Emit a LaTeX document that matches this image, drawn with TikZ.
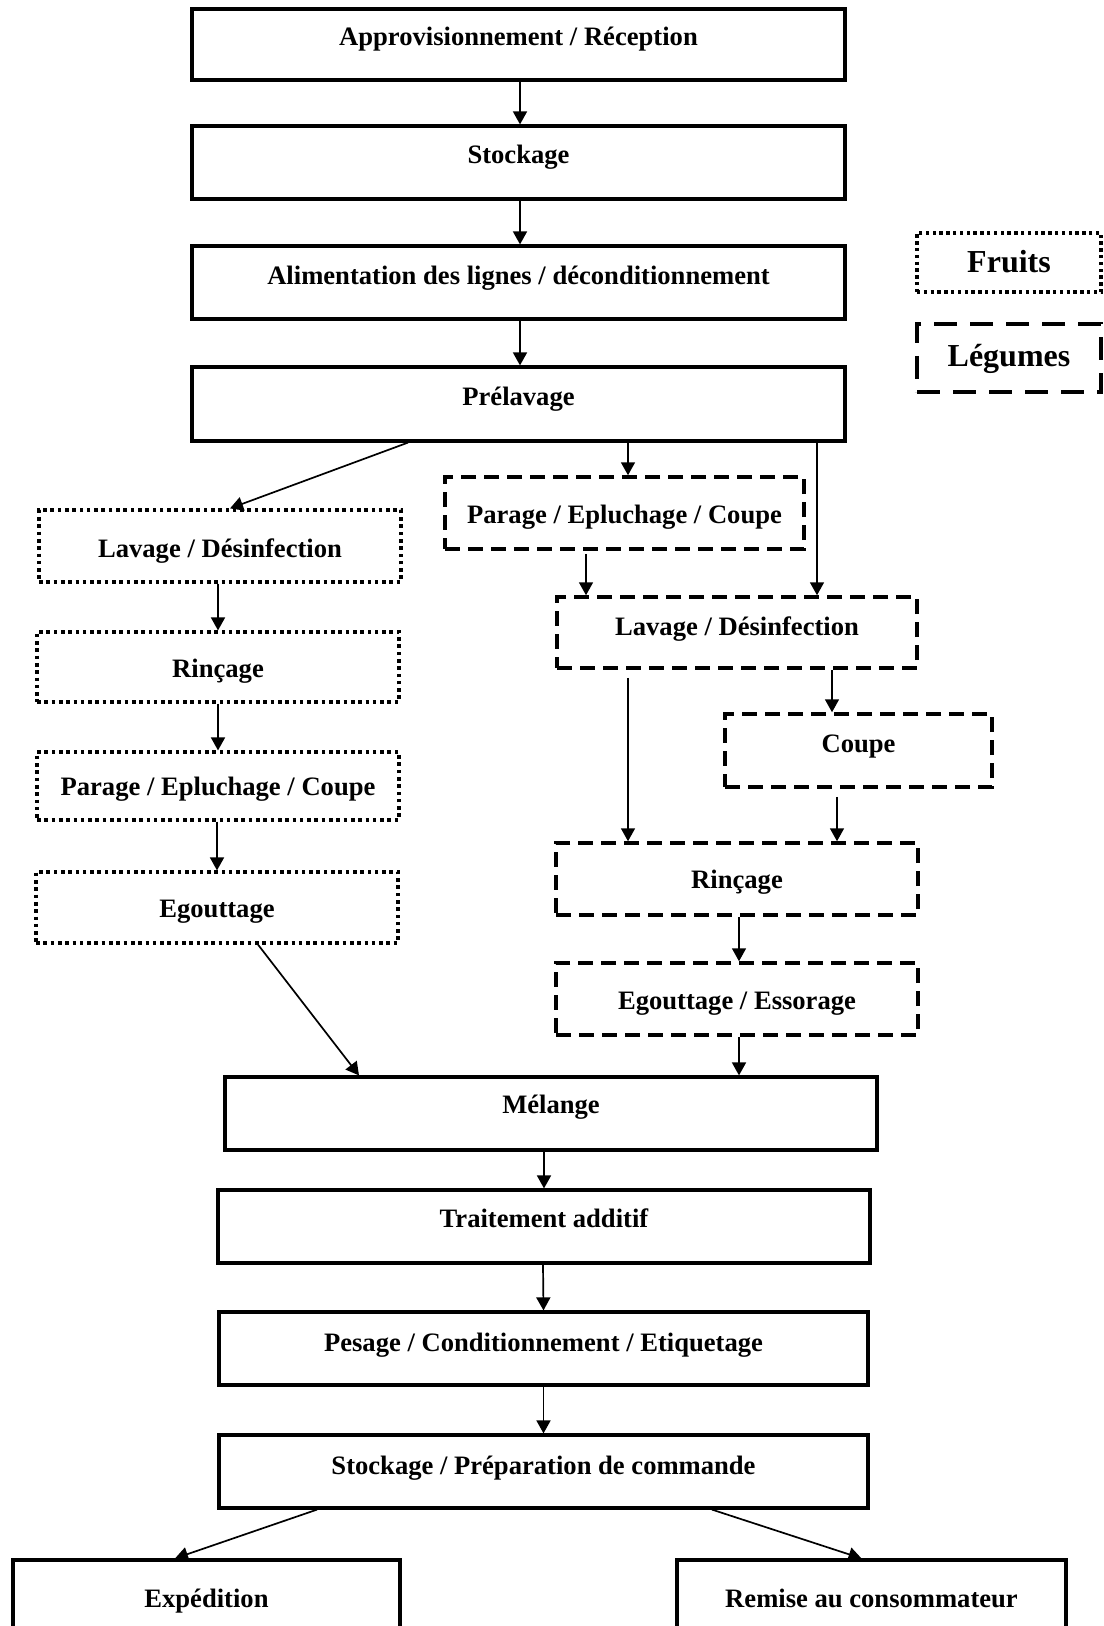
\documentclass[tikz,border=0pt]{standalone}
\usepackage{fontspec}
\setmainfont{Liberation Serif}
\usetikzlibrary{arrows.meta}

% \mkbox{name}{style}{x1}{y1}{x2}{y2}{baseline y}{text}
\newcommand\mkbox[8]{%
  \node[#2, minimum width={(#5-#3)*0.5pt}, minimum height={(#6-#4)*0.5pt}]
    (#1) at ({(#3+#5)/2},{(#4+#6)/2}) {};
  \node[lbl] (#1t) at ({(#3+#5)/2},#7) {#8};
}

\begin{document}
\begin{tikzpicture}[x=0.5pt,y=-0.5pt,
  box/.style={draw, line width=1.6pt, inner sep=0pt},
  mainbox/.style={box},
  fruitbox/.style={box, line width=1.6pt, dash pattern=on 1.8pt off 1.85pt},
  legbox/.style={box, line width=1.75pt, dash pattern=on 7.5pt off 4pt},
  fruitkey/.style={box, line width=1.6pt, dash pattern=on 1.7pt off 1.7pt},
  legkey/.style={box, line width=2pt, dash pattern=on 11.5pt off 6.5pt},
  lbl/.style={anchor=base, inner sep=0pt, font=\bfseries\fontsize{13.3}{16}\selectfont},
  keylbl/.style={anchor=base, inner sep=0pt, font=\bfseries\fontsize{16}{19}\selectfont},
  arr/.style={-{Triangle[length=6.5pt,width=7pt]}, line width=0.85pt},
]
\fill[white] (0,0) rectangle (1103,1626);
\useasboundingbox (0,0) rectangle (1103,1626);
\clip (0,0) rectangle (1103,1626);

% main chain, top
\mkbox{A}{mainbox}{192}{9}{845}{80}{46}{Approvisionnement / Réception}
\mkbox{S}{mainbox}{192}{126}{845}{199}{164}{Stockage}
\mkbox{Al}{mainbox}{192}{246}{845}{319}{285}{Alimentation des lignes / déconditionnement}
\mkbox{P}{mainbox}{192}{367}{845}{441}{405}{Prélavage}

% key
\node[fruitkey, minimum width={(1101-917)*0.5pt}, minimum height={(292-233)*0.5pt}]
  (kf) at ({(917+1101)/2},{(233+292)/2}) {};
\node[keylbl] (kft) at ({(917+1101)/2},273) {Fruits};
\node[legkey, minimum width={(1101-917)*0.5pt}, minimum height={(392-324)*0.5pt}]
  (kl) at ({(917+1101)/2},{(324+392)/2}) {};
\node[keylbl] (klt) at ({(917+1101)/2},366) {Légumes};

% fruit branch
\mkbox{L1}{fruitbox}{39}{510}{401}{582}{557}{Lavage / Désinfection}
\mkbox{R1}{fruitbox}{37}{632}{399}{702}{677}{Rinçage}
\mkbox{P1}{fruitbox}{37}{752}{399}{820}{795}{Parage / Epluchage / Coupe}
\mkbox{E1}{fruitbox}{36}{872}{398}{943}{917}{Egouttage}

% vegetable branch
\mkbox{Pa}{legbox}{445}{477}{804}{549}{523}{Parage / Epluchage / Coupe}
\mkbox{La}{legbox}{557}{597}{917}{668}{635}{Lavage / Désinfection}
\mkbox{Co}{legbox}{725}{714}{992}{787}{752}{Coupe}
\mkbox{Ri}{legbox}{556}{843}{918}{915}{888}{Rinçage}
\mkbox{Eg}{legbox}{556}{963}{918}{1035}{1009}{Egouttage / Essorage}

% main chain, bottom
\mkbox{M}{mainbox}{225}{1077}{877}{1150}{1113}{Mélange}
\mkbox{T}{mainbox}{218}{1190}{870}{1263}{1227}{Traitement additif}
\mkbox{Pe}{mainbox}{219}{1312}{868}{1385}{1351}{Pesage / Conditionnement / Etiquetage}
\mkbox{SP}{mainbox}{219}{1435}{868}{1508}{1474}{Stockage / Préparation de commande}
\mkbox{Ex}{mainbox}{13}{1560}{400}{1633}{1607}{Expédition}
\mkbox{Re}{mainbox}{677}{1560}{1066}{1633}{1607}{Remise au consommateur}

% connectors
\draw[arr] ([xshift=0.75pt]A.south) -- ([xshift=0.75pt]S.north);
\draw[arr] ([xshift=0.75pt]S.south) -- ([xshift=0.75pt]Al.north);
\draw[arr] ([xshift=0.75pt]Al.south) -- ([xshift=0.75pt]P.north);

\draw[arr] ([xshift=-55.25pt]P.south) -- ([xshift=5pt]L1.north);
\draw[arr] ([xshift=54.75pt]P.south) -- ([xshift=1.75pt]Pa.north);
\draw[arr] ([xshift=149.25pt]P.south) -- ([xshift=40pt]La.north);

\draw[arr] ([xshift=-1pt]L1.south) -- (R1.north);
\draw[arr] (R1.south) -- (P1.north);
\draw[arr] ([xshift=-0.5pt]P1.south) -- (E1.north);
\draw[arr] ([xshift=20.5pt]E1.south) -- ([xshift=-96pt]M.north);

\draw[arr] ([xshift=-19.25pt,yshift=-1.5pt]Pa.south) -- ([xshift=-75.5pt]La.north);
\draw[arr] ([xshift=47.5pt]La.south) -- ([xshift=-13.25pt]Co.north);
\draw[arr] ([xshift=-54.5pt,yshift=-4pt]La.south) -- ([xshift=-54.5pt]Ri.north);
\draw[arr] ([xshift=-10.75pt,yshift=-4pt]Co.south) -- ([xshift=50pt]Ri.north);
\draw[arr] ([xshift=1pt]Ri.south) -- ([xshift=1pt]Eg.north);
\draw[arr] ([xshift=1pt]Eg.south) -- ([xshift=94pt]M.north);

\draw[arr] ([xshift=-3.5pt]M.south) -- (T.north);
\draw[arr] ([xshift=-0.5pt]T.south) -- (Pe.north);
\draw[arr] (Pe.south) -- (SP.north);
\draw[arr] ([xshift=-113.25pt]SP.south) -- ([xshift=-15.75pt]Ex.north);
\draw[arr] ([xshift=84.25pt]SP.south) -- ([xshift=-5pt]Re.north);
\end{tikzpicture}
\end{document}
